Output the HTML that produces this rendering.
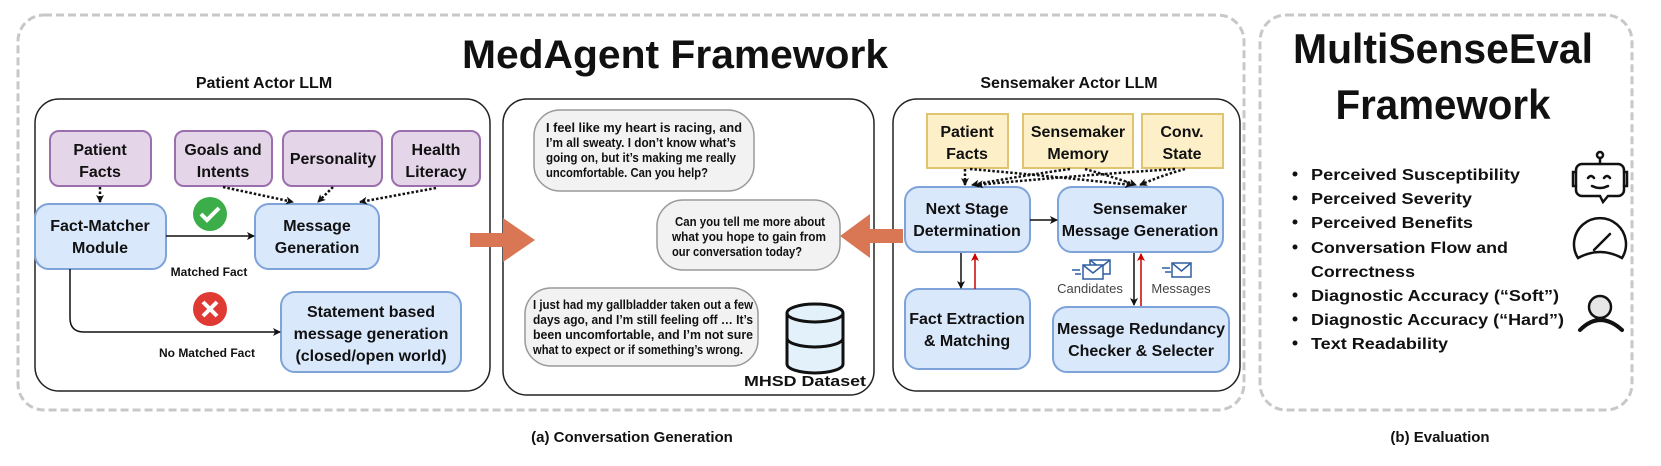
<!DOCTYPE html>
<html><head><meta charset="utf-8"><style>
body{margin:0;background:#fff}
svg text{font-family:"Liberation Sans",sans-serif;font-weight:bold;fill:#111}
</style></head><body>
<svg width="1661" height="461" viewBox="0 0 1661 461" xmlns="http://www.w3.org/2000/svg">
<defs>
<marker id="ah" markerWidth="8" markerHeight="8" refX="7" refY="4" orient="auto" markerUnits="userSpaceOnUse"><path d="M0,0 L8,4 L0,8 L2,4z" fill="#111"/></marker>
<marker id="ar" markerWidth="8" markerHeight="8" refX="7" refY="4" orient="auto" markerUnits="userSpaceOnUse"><path d="M0,0 L8,4 L0,8 L2,4z" fill="#c00"/></marker>
</defs>
<!-- outer dashed boxes -->
<rect x="18" y="15" width="1226" height="395" rx="26" fill="none" stroke="#c8c8c8" stroke-width="3" stroke-dasharray="8,4"/>
<rect x="1260" y="15" width="372" height="395" rx="26" fill="none" stroke="#c8c8c8" stroke-width="3" stroke-dasharray="8,4"/>
<text x="675" y="68" font-size="40" text-anchor="middle" textLength="426" lengthAdjust="spacingAndGlyphs">MedAgent Framework</text>
<text x="264" y="88" font-size="16" text-anchor="middle">Patient Actor LLM</text>
<text x="1069" y="88" font-size="16" text-anchor="middle">Sensemaker Actor LLM</text>
<!-- panels -->
<rect x="35" y="99" width="455" height="292" rx="24" fill="none" stroke="#222" stroke-width="1.5"/>
<rect x="503" y="99" width="371" height="296" rx="24" fill="none" stroke="#222" stroke-width="1.5"/>
<rect x="893" y="99" width="347" height="292" rx="24" fill="none" stroke="#222" stroke-width="1.5"/>

<!-- panel 1 -->
<g stroke="#9b6fae" stroke-width="2" fill="#e4d6e8">
<rect x="50" y="131" width="101" height="55" rx="9"/>
<rect x="175" y="131" width="97" height="55" rx="9"/>
<rect x="283" y="131" width="99" height="55" rx="9"/>
<rect x="392" y="131" width="88" height="55" rx="9"/>
</g>
<g font-size="16" text-anchor="middle">
<text x="100" y="155">Patient</text><text x="100" y="177">Facts</text>
<text x="223" y="155">Goals and</text><text x="223" y="177">Intents</text>
<text x="333" y="164">Personality</text>
<text x="436" y="155">Health</text><text x="436" y="177">Literacy</text>
</g>
<g stroke="#7ea3d8" stroke-width="2" fill="#dae8fc">
<rect x="35" y="204" width="131" height="65" rx="14"/>
<rect x="255" y="204" width="124" height="65" rx="14"/>
<rect x="281" y="292" width="180" height="80" rx="14"/>
</g>
<g font-size="16" text-anchor="middle">
<text x="100" y="231">Fact-Matcher</text><text x="100" y="253">Module</text>
<text x="317" y="231">Message</text><text x="317" y="253">Generation</text>
<text x="371" y="317">Statement based</text><text x="371" y="339">message generation</text><text x="371" y="361">(closed/open world)</text>
</g>
<g stroke="#111" stroke-width="2.5" stroke-dasharray="2.5,2" fill="none" marker-end="url(#ah)">
<line x1="100" y1="187" x2="100" y2="202"/>
<line x1="223" y1="187" x2="293" y2="202"/>
<line x1="333" y1="187" x2="318" y2="202"/>
<line x1="436" y1="188" x2="360" y2="202"/>
</g>
<line x1="166" y1="236" x2="254" y2="236" stroke="#111" stroke-width="1.5" marker-end="url(#ah)"/>
<path d="M70,269 V318 Q70,332 84,332 H280" fill="none" stroke="#111" stroke-width="1.5" marker-end="url(#ah)"/>
<text x="209" y="276" font-size="12" text-anchor="middle">Matched Fact</text>
<text x="207" y="357" font-size="12" text-anchor="middle">No Matched Fact</text>
<circle cx="210" cy="214" r="17" fill="#3cae49"/>
<path d="M201,214 l6,6 l12,-12" stroke="#fff" stroke-width="4" fill="none"/>
<circle cx="210" cy="309" r="17" fill="#e03a34"/>
<path d="M203,302 l14,14 M217,302 l-14,14" stroke="#fff" stroke-width="4"/>

<!-- orange arrows -->
<path d="M470,233 H503 V218 L535,240 L503,262 V247 H470z" fill="#d97755"/>
<path d="M903,229 H870 V214 L840,236 L870,258 V243 H903z" fill="#d97755"/>

<!-- panel 2 bubbles -->
<g fill="#f2f2f2" stroke="#999" stroke-width="1.5">
<rect x="534" y="110" width="220" height="81" rx="26"/>
<rect x="657" y="200" width="183" height="70" rx="26"/>
<rect x="525" y="288" width="233" height="78" rx="26"/>
</g>
<g font-size="12.5">
<text x="546" y="132" textLength="196" lengthAdjust="spacingAndGlyphs">I feel like my heart is racing, and</text>
<text x="546" y="147" textLength="190" lengthAdjust="spacingAndGlyphs">I’m all sweaty. I don’t know what’s</text>
<text x="546" y="162" textLength="190" lengthAdjust="spacingAndGlyphs">going on, but it’s making me really</text>
<text x="546" y="177" textLength="162" lengthAdjust="spacingAndGlyphs">uncomfortable. Can you help?</text>
<text x="675" y="226" textLength="150" lengthAdjust="spacingAndGlyphs">Can you tell me more about</text>
<text x="672" y="241" textLength="154" lengthAdjust="spacingAndGlyphs">what you hope to gain from</text>
<text x="672" y="256" textLength="130" lengthAdjust="spacingAndGlyphs">our conversation today?</text>
<text x="533" y="309" textLength="220" lengthAdjust="spacingAndGlyphs">I just had my gallbladder taken out a few</text>
<text x="533" y="324" textLength="220" lengthAdjust="spacingAndGlyphs">days ago, and I’m still feeling off … It’s</text>
<text x="533" y="339" textLength="220" lengthAdjust="spacingAndGlyphs">been uncomfortable, and I’m not sure</text>
<text x="533" y="354" textLength="210" lengthAdjust="spacingAndGlyphs">what to expect or if something’s wrong.</text>
</g>
<g stroke="#111" stroke-width="3" fill="#e3f1fb">
<path d="M787,313 V364 A28,9 0 0 0 843,364 V313"/>
<path d="M787,338 A28,9 0 0 0 843,338" fill="none"/>
<ellipse cx="815" cy="313" rx="28" ry="9"/>
</g>
<text x="805" y="386" font-size="15" text-anchor="middle" textLength="122" lengthAdjust="spacingAndGlyphs">MHSD Dataset</text>

<!-- panel 3 -->
<g stroke="#e0c470" stroke-width="2" fill="#fdf0c8">
<rect x="927" y="114" width="81" height="54"/>
<rect x="1023" y="114" width="110" height="54"/>
<rect x="1142" y="114" width="81" height="54"/>
</g>
<g font-size="16" text-anchor="middle">
<text x="967" y="137">Patient</text><text x="967" y="159">Facts</text>
<text x="1078" y="137">Sensemaker</text><text x="1078" y="159">Memory</text>
<text x="1182" y="137">Conv.</text><text x="1182" y="159">State</text>
</g>
<g stroke="#7ea3d8" stroke-width="2" fill="#dae8fc">
<rect x="905" y="187" width="125" height="65" rx="14"/>
<rect x="1058" y="187" width="165" height="65" rx="14"/>
<rect x="905" y="289" width="125" height="80" rx="14"/>
<rect x="1053" y="307" width="176" height="65" rx="14"/>
</g>
<g font-size="16" text-anchor="middle">
<text x="967" y="214">Next Stage</text><text x="967" y="236">Determination</text>
<text x="1140" y="214">Sensemaker</text><text x="1140" y="236">Message Generation</text>
<text x="967" y="324">Fact Extraction</text><text x="967" y="346">&amp; Matching</text>
<text x="1141" y="334">Message Redundancy</text><text x="1141" y="356">Checker &amp; Selecter</text>
</g>
<g stroke="#111" stroke-width="2.5" stroke-dasharray="2.5,2" fill="none" marker-end="url(#ah)">
<path d="M965,169 V185"/>
<path d="M970,169 Q1050,176 1132,185"/>
<path d="M1070,169 Q1020,176 972,185"/>
<path d="M1085,169 Q1110,176 1136,185"/>
<path d="M1175,169 Q1070,176 976,185"/>
<path d="M1185,169 Q1160,176 1140,185"/>
</g>
<line x1="1030" y1="220" x2="1057" y2="220" stroke="#111" stroke-width="1.5" marker-end="url(#ah)"/>
<line x1="961" y1="253" x2="961" y2="288" stroke="#111" stroke-width="1.5" marker-end="url(#ah)"/>
<line x1="975" y1="289" x2="975" y2="254" stroke="#c00" stroke-width="1.5" marker-end="url(#ar)"/>
<line x1="1134" y1="253" x2="1134" y2="305" stroke="#111" stroke-width="1.5" marker-end="url(#ah)"/>
<line x1="1141" y1="306" x2="1141" y2="254" stroke="#c00" stroke-width="1.5" marker-end="url(#ar)"/>
<g stroke="#2f5fa0" stroke-width="1.5" fill="#fff">
<rect x="1090" y="260" width="20" height="14"/><path d="M1090,260 l10,8 l10,-8" fill="none"/>
<rect x="1083" y="265" width="20" height="14"/><path d="M1083,265 l10,8 l10,-8" fill="none"/>
<path d="M1072,270 h8 M1075,274 h6" fill="none"/>
<rect x="1172" y="263" width="19" height="14"/><path d="M1172,263 l9.5,8 l9.5,-8" fill="none"/>
<path d="M1162,268 h8 M1165,272 h6" fill="none"/>
</g>
<text x="1090" y="293" font-size="13" font-weight="normal" style="font-weight:normal;fill:#444" text-anchor="middle">Candidates</text>
<text x="1181" y="293" font-size="13" style="font-weight:normal;fill:#444" text-anchor="middle">Messages</text>

<!-- right panel -->
<text x="1443" y="63" font-size="42" text-anchor="middle" textLength="300" lengthAdjust="spacingAndGlyphs">MultiSenseEval</text>
<text x="1443" y="119" font-size="42" text-anchor="middle" textLength="215" lengthAdjust="spacingAndGlyphs">Framework</text>
<g font-size="16">
<circle cx="1295" cy="174" r="2.5" fill="#111"/><text x="1311" y="180" textLength="209" lengthAdjust="spacingAndGlyphs">Perceived Susceptibility</text>
<circle cx="1295" cy="198" r="2.5" fill="#111"/><text x="1311" y="204" textLength="161" lengthAdjust="spacingAndGlyphs">Perceived Severity</text>
<circle cx="1295" cy="222" r="2.5" fill="#111"/><text x="1311" y="228" textLength="162" lengthAdjust="spacingAndGlyphs">Perceived Benefits</text>
<circle cx="1295" cy="247" r="2.5" fill="#111"/><text x="1311" y="253" textLength="197" lengthAdjust="spacingAndGlyphs">Conversation Flow and</text>
<text x="1311" y="277" textLength="104" lengthAdjust="spacingAndGlyphs">Correctness</text>
<circle cx="1295" cy="295" r="2.5" fill="#111"/><text x="1311" y="301" textLength="248" lengthAdjust="spacingAndGlyphs">Diagnostic Accuracy (“Soft”)</text>
<circle cx="1295" cy="319" r="2.5" fill="#111"/><text x="1311" y="325" textLength="253" lengthAdjust="spacingAndGlyphs">Diagnostic Accuracy (“Hard”)</text>
<circle cx="1295" cy="343" r="2.5" fill="#111"/><text x="1311" y="349" textLength="137" lengthAdjust="spacingAndGlyphs">Text Readability</text>
</g>
<g stroke="#111" stroke-width="2.5" fill="none" stroke-linecap="round">
<circle cx="1600" cy="155" r="3"/><line x1="1600" y1="158" x2="1600" y2="164"/>
<path d="M1582,164 h36 a6,6 0 0 1 6,6 v20 a6,6 0 0 1 -6,6 h-10 l-5,6 l-3,-6 h-18 a6,6 0 0 1 -6,-6 v-20 a6,6 0 0 1 6,-6z"/>
<path d="M1576,172 h-3 v14 h3 M1624,172 h3 v14 h-3"/>
<path d="M1588,178 q3,-4 6,0 M1604,178 q3,-4 6,0 M1592,186 q8,4 16,0"/>
<path d="M1578,258 A26,26 0 1 1 1622,258 Q1600,246 1578,258z"/>
<line x1="1594" y1="250" x2="1610" y2="234"/>
<circle cx="1600" cy="307" r="11" fill="#e6e6e6"/>
<path d="M1580,330 Q1600,310 1622,330" stroke-width="4"/>
</g>

<text x="632" y="442" font-size="15" text-anchor="middle">(a) Conversation Generation</text>
<text x="1440" y="442" font-size="15" text-anchor="middle">(b) Evaluation</text>
</svg>
</body></html>
